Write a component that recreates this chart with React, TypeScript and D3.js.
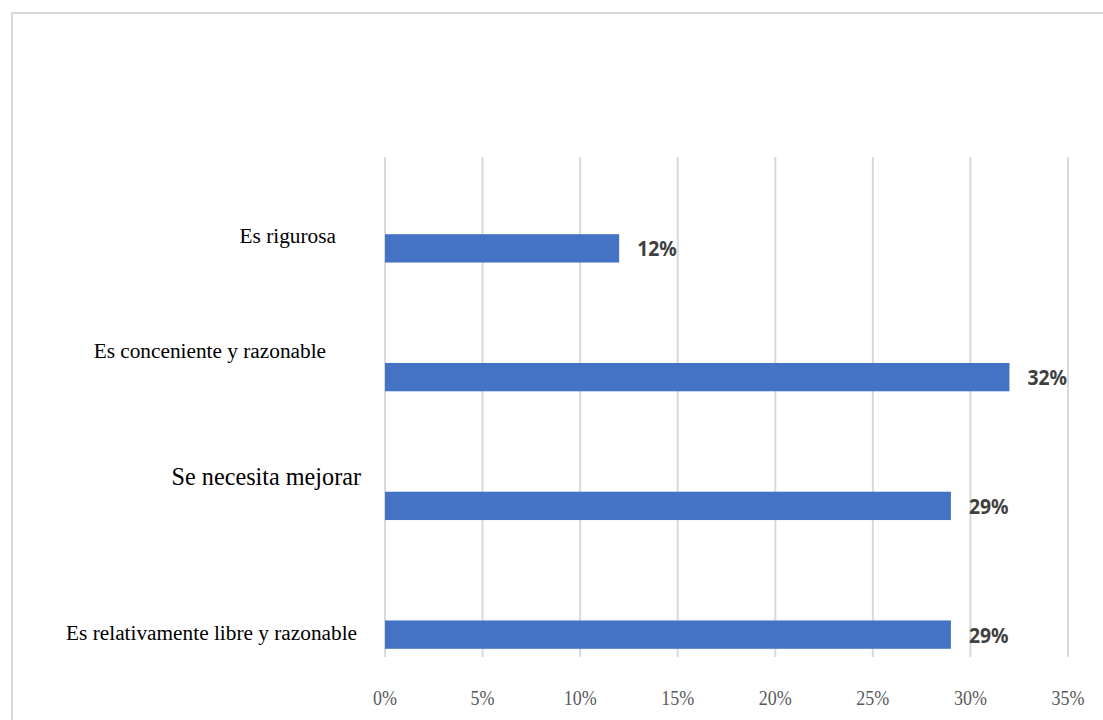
import React from "react";
import * as d3 from "d3";

const categories = [
  "Es rigurosa",
  "Es conceniente y razonable",
  "Se necesita mejorar",
  "Es relativamente libre y razonable",
];
const values = [12, 32, 29, 29];
const ticks = [0, 5, 10, 15, 20, 25, 30, 35];

// label layout: right edge x, vertical offset relative to bar centre, font size
const labelLayout = [
  { right: 336, dy: -12, size: 21.3 },
  { right: 326, dy: -26, size: 21.3 },
  { right: 361, dy: -27, size: 24.2 },
  { right: 357, dy: -1, size: 21.3 },
];

export default function App() {
  const W = 1103;
  const H = 720;
  const x = d3.scaleLinear().domain([0, 35]).range([385, 1068]);
  const y = d3.scaleBand<string>().domain(categories).range([184, 699]).paddingInner(0.78).paddingOuter(0.39);
  const gridTop = 157;
  const gridBottom = 657;
  return (
    <svg
      width={W}
      height={H}
      style={{ position: "absolute", left: 0, top: 0, background: "#fff" }}
    >
      <path d={`M12,${H} L12,13 L${W},13`} fill="none" stroke="#d9d9d9" strokeWidth={2} />
      {ticks.map((t) => (
        <g key={t}>
          <line x1={x(t)} x2={x(t)} y1={gridTop} y2={gridBottom} stroke="#d9d9d9" strokeWidth={2} />
          <g transform={`translate(${x(t)},705) scale(0.9,1.1)`}>
            <text
              x={0}
              y={0}
              textAnchor="middle"
              fontFamily="'Liberation Serif', serif"
              fontSize={20}
              fill="#595959"
            >
              {t}%
            </text>
          </g>
        </g>
      ))}
      {categories.map((c, i) => {
        const by = y(c)!;
        const bh = y.bandwidth();
        const cy = by + bh / 2;
        return (
          <g key={c}>
            <rect x={x(0)} y={by} width={x(values[i]) - x(0)} height={bh} fill="#4472C4" />
            <g transform={`translate(${x(values[i]) + 18},${cy + 8}) scale(0.88,1)`}>
              <text
                x={0}
                y={0}
                fontFamily="'Noto Sans', sans-serif"
                fontWeight="bold"
                fontSize={22}
                fill="#404040"
              >
                {values[i]}%
              </text>
            </g>
            <text
              x={labelLayout[i].right}
              y={cy + labelLayout[i].dy + 6.5}
              textAnchor="end"
              fontFamily="'Liberation Serif', serif"
              fontSize={labelLayout[i].size}
              fill="#000"
            >
              {c}
            </text>
          </g>
        );
      })}
    </svg>
  );
}
